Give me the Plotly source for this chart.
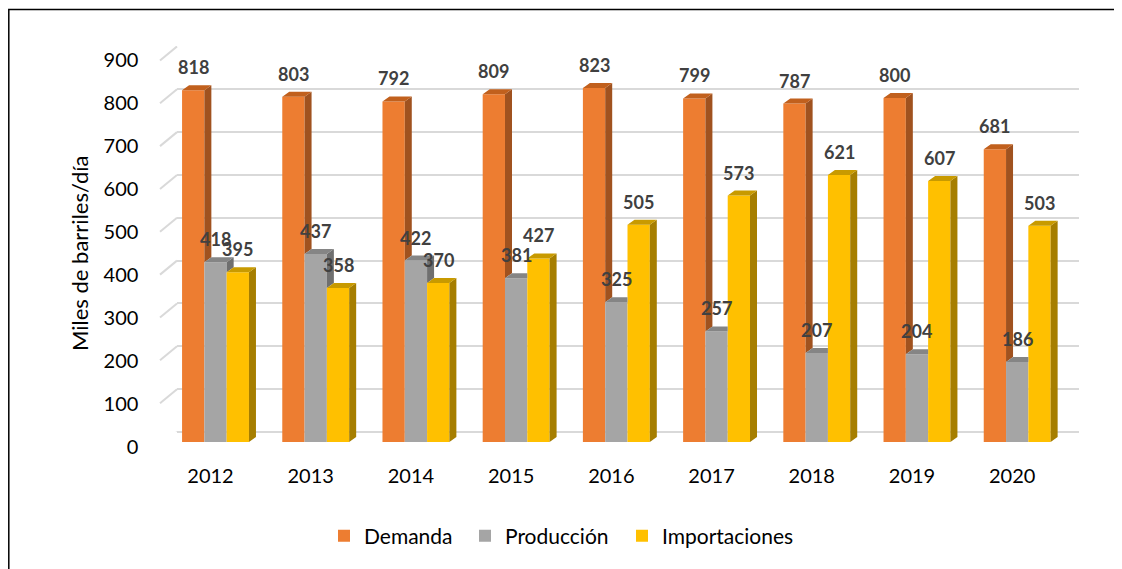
import plotly.graph_objects as go

years = ["2012", "2013", "2014", "2015", "2016", "2017", "2018", "2019", "2020"]
demanda = [818, 803, 792, 809, 823, 799, 787, 800, 681]
produccion = [418, 437, 422, 381, 325, 257, 207, 204, 186]
importaciones = [395, 358, 370, 427, 505, 573, 621, 607, 503]

series = [
    ("Demanda", demanda, "#ED7D31", "#A0521F", "#C1601D"),
    ("Producción", produccion, "#A5A5A5", "#6F6F6F", "#858585"),
    ("Importaciones", importaciones, "#FFC000", "#A67E00", "#C89A00"),
]

W, H = 1122, 569
OFF = 8          # page body margin of the html
FONT = "Lato"


def fx(px):
    return (px - OFF) / W


def fy(py):
    return (H - (py - OFF)) / H


# pixel geometry (screen) of the bar plane (front faces)
bx0, bx1 = 165.4, 1067.3
by0, by1 = 442, 55
ymax = 900
px_cat = (bx1 - bx0) / len(years)
px_val = (by0 - by1) / ymax
bar_w = 22.3 / px_cat
ddx = 7 / px_cat        # depth of the bars
ddy = 5 / px_val

legend_ids = ["legend", "legend2", "legend3"]
legend_x = [324, 465, 622]

fig = go.Figure()

# back wall subplot (grid only)
fig.add_trace(go.Scatter(x=[], y=[], xaxis="x", yaxis="y", showlegend=False))

xs = list(range(len(years)))
for j, (name, vals, c, cside, ctop) in enumerate(series):
    off = (j - 1) * bar_w
    fig.add_trace(go.Bar(
        x=[i + off for i in xs], y=vals, width=bar_w, name=name,
        marker=dict(color=c, line=dict(width=0)),
        xaxis="x2", yaxis="y2", hoverinfo="y", legend=legend_ids[j],
    ))

# 3D side / top faces, clipped where the neighbouring front face hides them
for j, (name, vals, c, cside, ctop) in enumerate(series):
    off = (j - 1) * bar_w
    nxt = series[j + 1][1] if j + 1 < len(series) else None
    sx, sy, tx, ty = [], [], [], []
    for i, v in enumerate(vals):
        xl = i + off - bar_w / 2
        xr = i + off + bar_w / 2
        n = nxt[i] if nxt is not None else 0
        if n < v:
            sx += [xr, xr, xr + ddx, xr + ddx, xr, None]
            sy += [n, v, v + ddy, n + ddy, n, None]
            tx += [xl, xr, xr + ddx, xl + ddx, xl, None]
            ty += [v, v, v + ddy, v + ddy, v, None]
        else:
            tx += [xl, xr, xr, xl + ddx, xl, None]
            ty += [v, v, v + ddy, v + ddy, v, None]
    fig.add_trace(go.Scatter(x=sx, y=sy, fill="toself", fillcolor=cside, mode="lines",
                             line=dict(width=0), showlegend=False, hoverinfo="skip",
                             xaxis="x2", yaxis="y2"))
    fig.add_trace(go.Scatter(x=tx, y=ty, fill="toself", fillcolor=ctop, mode="lines",
                             line=dict(width=0), showlegend=False, hoverinfo="skip",
                             xaxis="x2", yaxis="y2"))

# data labels
for j, (name, vals, c, cside, ctop) in enumerate(series):
    off = (j - 1) * bar_w
    for i, v in enumerate(vals):
        fig.add_annotation(x=i + off, y=v, xref="x2", yref="y2", text=str(v),
                           showarrow=False, yanchor="bottom", yshift=10,
                           font=dict(family=FONT, size=18, color="#404040", weight="bold"))

ticks = list(range(0, ymax + 1, 100))

# left diagonals of the back wall
for t in ticks:
    fig.add_shape(type="line", xref="paper", x0=fx(160), x1=fx(177),
                  yref="y", ysizemode="pixel", yanchor=t, y0=-14, y1=0,
                  line=dict(color="#D9D9D9", width=2))

# chart frame
fig.add_shape(type="rect", xref="paper", yref="paper", x0=fx(8.8), x1=1.05,
              y0=-0.05, y1=fy(9.5), line=dict(color="black", width=1.5))

fig.add_annotation(text="Miles de barriles/día", xref="paper", yref="paper",
                   x=fx(79), y=fy(254), xanchor="center", yanchor="middle",
                   textangle=-90, showarrow=False,
                   font=dict(family=FONT, size=22, color="black"))

legends = {}
for lid, lx in zip(legend_ids, legend_x):
    legends[lid] = dict(orientation="h", x=fx(lx), xanchor="left", y=fy(536),
                        yanchor="middle", font=dict(family=FONT, size=21, color="black"),
                        itemwidth=30, bgcolor="rgba(0,0,0,0)")

fig.update_layout(
    width=W, height=H, margin=dict(l=0, r=0, t=0, b=0, autoexpand=False),
    paper_bgcolor="white", plot_bgcolor="rgba(0,0,0,0)",
    barmode="overlay",
    font=dict(family=FONT, size=20, color="black"),
    xaxis=dict(domain=[fx(177.4), fx(1079.3)], range=[0, 1], visible=False,
               automargin=False),
    yaxis=dict(domain=[fy(432), fy(46)], range=[0, 901],
               tickvals=ticks, showticklabels=False, showgrid=True,
               gridcolor="#D9D9D9", gridwidth=2, zeroline=True,
               zerolinecolor="#D9D9D9", zerolinewidth=2, automargin=False),
    xaxis2=dict(domain=[fx(bx0), fx(bx1)], range=[-0.5, len(years) - 0.5],
                anchor="y2", tickvals=xs, ticktext=years, showgrid=False,
                zeroline=False, showline=False, ticks="", automargin=False,
                ticklabelstandoff=20, ticklabelshift=-5,
                tickfont=dict(family=FONT, size=20, color="black")),
    yaxis2=dict(domain=[fy(by0), fy(by1)], range=[0, ymax],
                anchor="x2", tickvals=ticks, showgrid=False, zeroline=False,
                showline=False, ticks="", ticklabelstandoff=26, ticklabelshift=5,
                automargin=False,
                tickfont=dict(family=FONT, size=20, color="black")),
    showlegend=True,
    **legends,
)

fig.write_html("out.html")
